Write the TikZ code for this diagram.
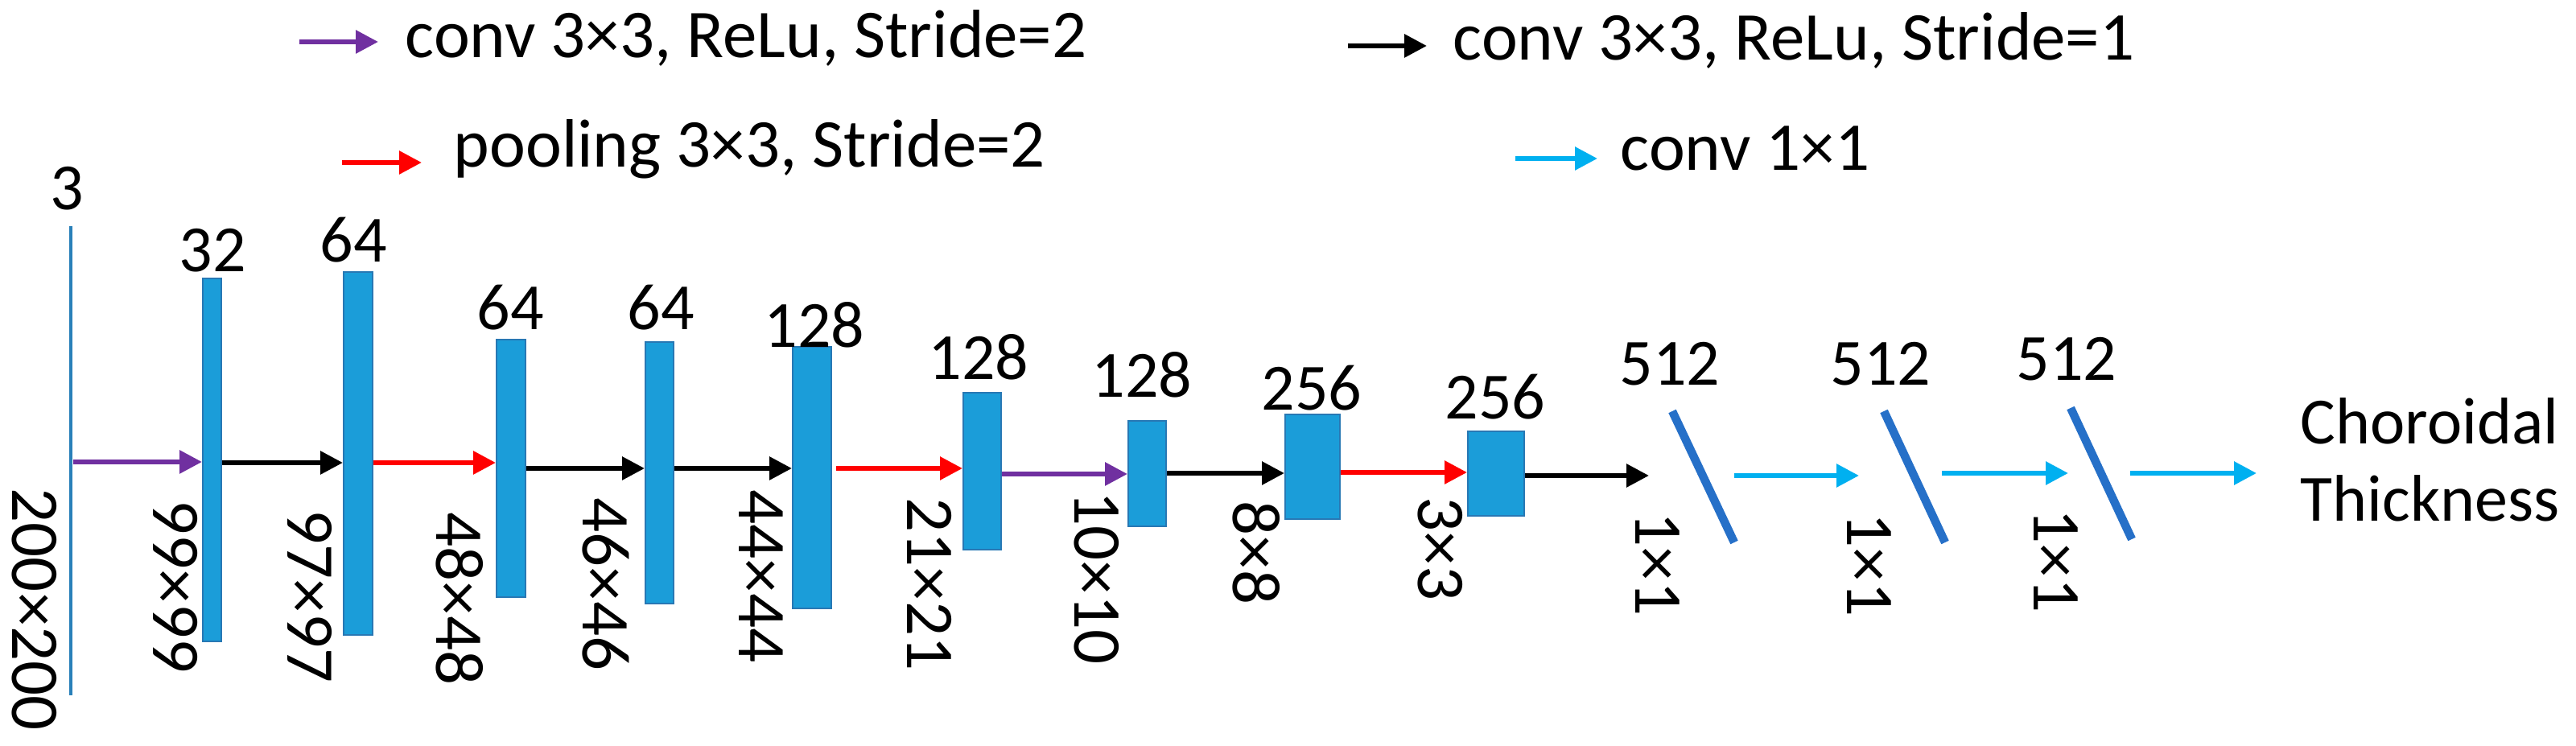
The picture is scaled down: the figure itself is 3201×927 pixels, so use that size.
\documentclass[tikz,border=0pt]{standalone}
\usepackage{fontspec}
\setmainfont{Carlito}
\usetikzlibrary{arrows.meta,fit}
\definecolor{cpurple}{RGB}{112,48,160}
\definecolor{cred}{RGB}{255,0,0}
\definecolor{ccyan}{RGB}{0,176,240}
\definecolor{cbox}{RGB}{27,157,217}
\definecolor{cboxedge}{RGB}{40,120,180}
\definecolor{cslash}{RGB}{38,112,200}
\definecolor{cinput}{RGB}{41,128,185}
\begin{document}
\begin{tikzpicture}[x=0.25pt,y=-0.25pt,
  arr/.style={line width=1.5pt, -{Triangle[length=7pt,width=7pt]}},
  purp/.style={arr, draw=cpurple},
  blk/.style={arr, draw=black},
  pool/.style={arr, draw=cred},
  cyn/.style={arr, draw=ccyan},
  fmap/.style={draw=cboxedge, line width=0.5pt, fill=cbox, inner sep=0pt},
  inputln/.style={fill=cinput, inner sep=0pt},
  slashln/.style={draw=cslash, line width=2.6pt},
  chan/.style={anchor=base, inner sep=0pt, font=\fontsize{20.5}{24}\selectfont},
  dimlbl/.style={anchor=base west, rotate=-90, inner sep=0pt, font=\fontsize{21.25}{24}\selectfont},
  legtxt/.style={anchor=base west, inner sep=0pt, font=\fontsize{21.25}{24}\selectfont},
  outtxt/.style={anchor=base west, inner sep=0pt, font=\fontsize{20.5}{24}\selectfont},
]
\useasboundingbox (0,0) rectangle (3201,927);
\fill[white] (0,0) rectangle (3201,927);

% ---------- legend ----------
\coordinate (l1a) at (372,52);  \coordinate (l1b) at (470,52);
\draw[purp] (l1a) -- (l1b);
\node[legtxt] (l1t) at (503,72) {conv 3×3, ReLu, Stride=2};

\coordinate (l2a) at (1675,57); \coordinate (l2b) at (1773,57);
\draw[blk] (l2a) -- (l2b);
\node[legtxt] (l2t) at (1805,75) {conv 3×3, ReLu, Stride=1};

\coordinate (l3a) at (425,202); \coordinate (l3b) at (524,202);
\draw[pool] (l3a) -- (l3b);
\node[legtxt] (l3t) at (563,208) {pooling 3×3, Stride=2};

\coordinate (l4a) at (1883,197); \coordinate (l4b) at (1985,197);
\draw[cyn] (l4a) -- (l4b);
\node[legtxt] (l4t) at (2013,212) {conv 1×1};

% ---------- feature maps ----------
\node[inputln, fit={(86.5,281) (89.5,864)}] (in) {};
\node[fmap, fit={(252,346) (275,797)}] (b1) {};
\node[fmap, fit={(427,338) (463,789)}] (b2) {};
\node[fmap, fit={(617,422) (653,742)}] (b3) {};
\node[fmap, fit={(802,425) (837,750)}] (b4) {};
\node[fmap, fit={(985,431) (1033,756)}] (b5) {};
\node[fmap, fit={(1197,488) (1244,683)}] (b6) {};
\node[fmap, fit={(1402,523) (1449,654)}] (b7) {};
\node[fmap, fit={(1597,515) (1665,645)}] (b8) {};
\node[fmap, fit={(1824,536) (1894,641)}] (b9) {};

% 1x1 layers (slashes)
\coordinate (s1t) at (2078,511); \coordinate (s1b) at (2155,674);
\coordinate (s2t) at (2341,511); \coordinate (s2b) at (2417,674);
\coordinate (s3t) at (2573,507); \coordinate (s3b) at (2649,670);
\draw[slashln] (s1t) -- (s1b);
\draw[slashln] (s2t) -- (s2b);
\draw[slashln] (s3t) -- (s3b);

% ---------- channel labels ----------
\node[chan] (c0) at (83,261) {3};
\node[chan] (c1) at (264,338) {32};
\node[chan] (c2) at (439,326) {64};
\node[chan] (c3) at (634,410) {64};
\node[chan] (c4) at (821,410) {64};
\node[chan] (c5) at (1012,432) {128};
\node[chan] (c6) at (1216,472) {128};
\node[chan] (c7) at (1419,494) {128};
\node[chan] (c8) at (1630,510) {256};
\node[chan] (c9) at (1858,521) {256};
\node[chan] (c10) at (2075,479) {512};
\node[chan] (c11) at (2337,479) {512};
\node[chan] (c12) at (2568,473) {512};

% ---------- size labels ----------
\node[dimlbl] (d0) at (16,606) {200×200};
\node[dimlbl] (d1) at (190,621) {99×99};
\node[dimlbl] (d2) at (357,633) {97×97};
\node[dimlbl] (d3) at (542,636) {48×48};
\node[dimlbl] (d4) at (724,618) {46×46};
\node[dimlbl] (d5) at (918,608) {44×44};
\node[dimlbl] (d6) at (1127,618) {21×21};
\node[dimlbl] (d7) at (1335,610) {10×10};
\node[dimlbl] (d8) at (1532,622) {8×8};
\node[dimlbl] (d9) at (1762,617) {3×3};
\node[dimlbl] (d10) at (2032,636) {1×1};
\node[dimlbl] (d11) at (2295,637) {1×1};
\node[dimlbl] (d12) at (2527,632) {1×1};

% ---------- connectors ----------
\draw[purp] (in.east |- 0,574) -- (b1.west |- 0,574);
\draw[blk]  (b1.east |- 0,575) -- (b2.west |- 0,575);
\draw[pool] (b2.east |- 0,575) -- (b3.west |- 0,575);
\draw[blk]  (b3.east |- 0,582) -- (b4.west |- 0,582);
\draw[blk]  (b4.east |- 0,582) -- (b5.west |- 0,582);
\draw[pool] ([xshift=1.25pt]b5.east |- 0,582) -- (b6.west |- 0,582);
\draw[purp] (b6.east |- 0,589) -- (b7.west |- 0,589);
\draw[blk]  (b7.east |- 0,588) -- (b8.west |- 0,588);
\draw[pool] (b8.east |- 0,587) -- (b9.west |- 0,587);

\coordinate (e9) at (2049,591);
\draw[blk] (b9.east |- 0,591) -- (e9);
\coordinate (a10) at (2155,591); \coordinate (e10) at (2310,591);
\draw[cyn] (a10) -- (e10);
\coordinate (a11) at (2413,588); \coordinate (e11) at (2570,588);
\draw[cyn] (a11) -- (e11);
\coordinate (a12) at (2647,588); \coordinate (e12) at (2804,588);
\draw[cyn] (a12) -- (e12);

% ---------- output ----------
\node[outtxt] (o1) at (2858,552) {Choroidal};
\node[outtxt] (o2) at (2858,648) {Thickness};
\end{tikzpicture}
\end{document}
